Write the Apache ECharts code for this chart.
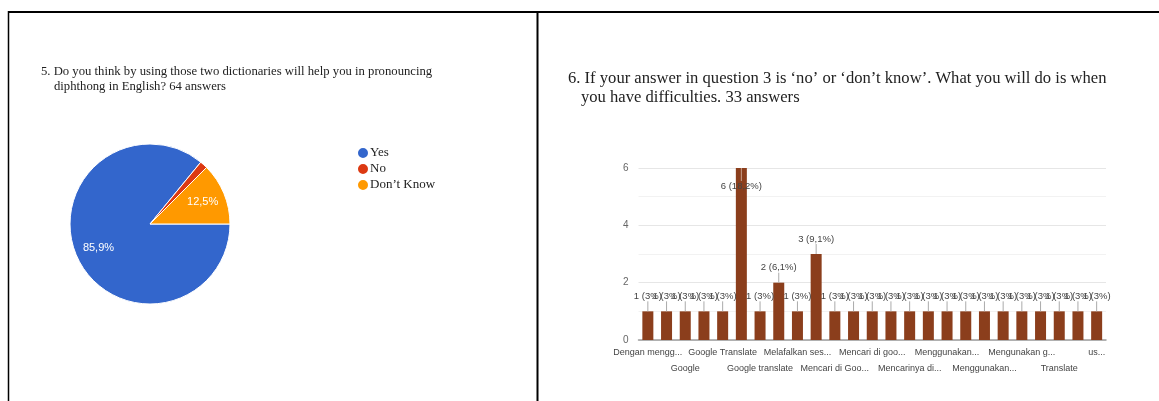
<!DOCTYPE html>
<html>
<head>
<meta charset="utf-8">
<script src="https://cdn.jsdelivr.net/npm/echarts@6/dist/echarts.min.js"></script>
<style>
  html, body { margin: 0; padding: 0; background: #fff; }
  #chart { width: 1159px; height: 401px; }
</style>
</head>
<body>
<div id="chart"></div>
<script>
// Question 5: pie of answers
const pieNames = ['Yes', 'No', 'Don\u2019t Know'];
const pieCounts = [55, 1, 8];
const pieColors = ['#3366cc', '#dc3912', '#ff9900'];

// Question 6: answers per response (sorted alphabetically)
const barCategories = [
  'Dengan mengg...', 'Dengan menggunakan kamus', 'Google', 'Google Terjemahan',
  'Google Translate', 'Google translate dan kamus', 'Google translate', 'Kamus online',
  'Melafalkan ses...', 'Mencari di Google', 'Mencari di Goo...', 'Mencari di google translate',
  'Mencari di goo...', 'Mencari di youtube', 'Mencarinya di...', 'Menggunakan aplikasi',
  'Menggunakan...', 'Menggunakan google', 'Menggunakan...', 'Menggunakan kamus',
  'Mengunakan g...', 'Mengunakan kamus', 'Translate', 'Tanya teman', 'us...'
];
const barCounts = [1, 1, 1, 1, 1, 6, 1, 2, 1, 3, 1, 1, 1, 1, 1, 1, 1, 1, 1, 1, 1, 1, 1, 1, 1];
const yTicks = [0, 2, 4, 6];

const totalPie = pieCounts.reduce((a, b) => a + b, 0);
const totalBar = barCounts.reduce((a, b) => a + b, 0);
const maxBar = Math.max(...barCounts);

function pctText(v, total) {
  const p = Math.round(v / total * 1000) / 10;
  return String(p).replace('.', ',');
}

const chart = echarts.init(document.getElementById('chart'), null, { renderer: 'canvas' });

const serif = 'Liberation Serif, Times New Roman, serif';
const sans = 'Liberation Sans, Arial, sans-serif';

const pieData = pieNames.map((n, i) => ({ name: n, value: pieCounts[i] }));

const barData = barCounts.map((v) => {
  const item = { value: v };
  if (v === maxBar) {
    item.label = { position: 'insideTop', distance: 13 };
  }
  return item;
});

const titleText = { fontFamily: serif, fontWeight: 'normal', color: '#222' };

// category labels alternate between two rows: every 4th on the first row,
// the ones in between on a second axis drawn one line lower
const catLabel = (rowOffset) => ({
  interval: (index) => index % 4 === rowOffset,
  showMinLabel: true,
  showMaxLabel: true,
  hideOverlap: false,
  margin: 8.5,
  fontFamily: sans,
  fontSize: 9,
  color: '#444'
});

chart.setOption({
  animation: false,
  color: pieColors,
  title: [
    { text: '5. Do you think by using those two dictionaries will help you in pronouncing',
      left: 36, top: 60, textStyle: Object.assign({ fontSize: 12.7 }, titleText) },
    { text: 'diphthong in English? 64 answers',
      left: 49, top: 75, textStyle: Object.assign({ fontSize: 12.7 }, titleText) },
    { text: '6. If your answer in question 3 is \u2018no\u2019 or \u2018don\u2019t know\u2019. What you will do is when',
      left: 563, top: 65, textStyle: Object.assign({ fontSize: 16.6 }, titleText) },
    { text: 'you have difficulties. 33 answers',
      left: 576, top: 84, textStyle: Object.assign({ fontSize: 16.6 }, titleText) }
  ],
  legend: {
    data: pieNames,
    orient: 'vertical',
    left: 351,
    top: 141,
    icon: 'circle',
    itemWidth: 12,
    itemHeight: 12,
    itemGap: 2,
    textStyle: { fontFamily: serif, fontSize: 13, color: '#222', lineHeight: 14, padding: [0, 0, 0, -4] }
  },
  grid: { left: 638.5, right: 53, top: 168, bottom: 61, containLabel: false },
  xAxis: [
    {
      type: 'category',
      data: barCategories,
      axisTick: { show: false },
      axisLine: { lineStyle: { color: '#9e9e9e', width: 1.5 } },
      axisLabel: catLabel(0)
    },
    {
      type: 'category',
      data: barCategories,
      position: 'bottom',
      offset: 16,
      axisTick: { show: false },
      axisLine: { show: false },
      axisLabel: catLabel(2)
    }
  ],
  yAxis: {
    type: 'value',
    min: yTicks[0],
    max: yTicks[yTicks.length - 1],
    interval: 2,
    axisLine: { show: false },
    axisTick: { show: false },
    axisLabel: { fontFamily: sans, fontSize: 10, color: '#666', margin: 10 },
    splitLine: { lineStyle: { color: '#e6e6e6' } },
    minorTick: { show: false, splitNumber: 2 },
    minorSplitLine: { show: true, lineStyle: { color: '#f2f2f2' } }
  },
  series: [
    {
      type: 'pie',
      center: [150, 224],
      radius: 80,
      startAngle: 0,
      clockwise: true,
      data: pieData,
      itemStyle: { borderColor: '#fff', borderWidth: 1 },
      label: { show: false },
      labelLine: { show: false },
      emphasis: { disabled: true }
    },
    {
      // transparent ring that places the percentage labels further out
      type: 'pie',
      center: [150, 224],
      radius: [28, 80],
      startAngle: 0,
      clockwise: true,
      data: pieData,
      itemStyle: { color: 'transparent' },
      label: {
        show: true,
        position: 'inside',
        fontFamily: sans,
        fontSize: 11,
        color: '#fff',
        formatter: (p) => (p.value / totalPie >= 0.05 ? pctText(p.value, totalPie) + '%' : '')
      },
      labelLine: { show: false },
      legendHoverLink: false,
      emphasis: { disabled: true },
      tooltip: { show: false }
    },
    {
      type: 'bar',
      data: barData,
      barWidth: 11,
      itemStyle: { color: '#8b3e1c' },
      label: {
        show: true,
        position: 'top',
        distance: 10,
        fontFamily: sans,
        fontSize: 9.5,
        color: '#444',
        formatter: (p) => p.value + ' (' + pctText(p.value, totalBar) + '%)'
      },
      emphasis: { disabled: true }
    },
    {
      // annotation stems linking each label to its bar
      type: 'custom',
      data: barCounts.map((v, i) => [i, v]),
      z: 3,
      renderItem: (params, api) => {
        const v = api.value(1);
        const pt = api.coord([api.value(0), v]);
        const inside = v === maxBar;
        const y2 = inside ? pt[1] + 13 : pt[1] - 10;
        return {
          type: 'line',
          shape: { x1: pt[0], y1: pt[1], x2: pt[0], y2: y2 },
          style: { stroke: inside ? '#c9a08c' : '#aaaaaa', lineWidth: 1 }
        };
      },
      silent: true
    }
  ],
  graphic: [
    { type: 'line', shape: { x1: 8, y1: 12, x2: 1159, y2: 12 }, style: { stroke: '#000', lineWidth: 2 } },
    { type: 'line', shape: { x1: 8.5, y1: 11, x2: 8.5, y2: 401 }, style: { stroke: '#000', lineWidth: 1.5 } },
    { type: 'line', shape: { x1: 537.5, y1: 11, x2: 537.5, y2: 401 }, style: { stroke: '#000', lineWidth: 2 } }
  ]
});
</script>
</body>
</html>
